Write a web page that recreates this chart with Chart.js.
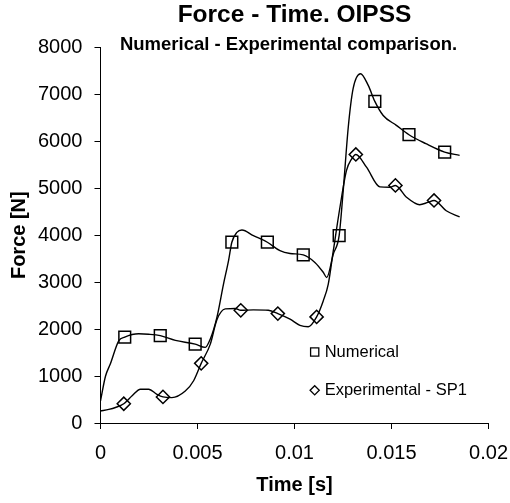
<!DOCTYPE html>
<html>
<head>
<meta charset="utf-8">
<title>Force - Time. OIPSS</title>
<script src="https://cdn.jsdelivr.net/npm/chart.js"></script>
<style>
  html, body { margin: 0; padding: 0; background: #fff; }
  #chart { display: block; }
</style>
</head>
<body>
<canvas id="chart" width="510" height="503"></canvas>
<script>
// values
const numTime = [0, 0.00026, 0.00051, 0.00094, 0.00125, 0.00197, 0.00248, 0.00308, 0.00386, 0.00488,
  0.0054, 0.00566, 0.006, 0.00634, 0.0066, 0.00677, 0.00703, 0.00729, 0.00788, 0.0086,
  0.00925, 0.00977, 0.01045, 0.01105, 0.01148, 0.01166, 0.012, 0.0123, 0.01251, 0.01277,
  0.01302, 0.0134, 0.0138, 0.01414, 0.01457, 0.01525, 0.0159, 0.01677, 0.01774, 0.01851];
const numForce = [470, 1000, 1260, 1750, 1830, 1900, 1890, 1860, 1760, 1680,
  1610, 1790, 2250, 2960, 3460, 3850, 4060, 4110, 3990, 3850,
  3670, 3610, 3580, 3420, 3210, 3100, 3600, 3990, 4950, 6300,
  7120, 7440, 7190, 6850, 6550, 6340, 6140, 5950, 5770, 5700];
const numMarkers = [0.00125, 0.00308, 0.00488, 0.00677, 0.0086, 0.01045, 0.0123, 0.01414, 0.0159, 0.01774];

const expTime = [0, 0.00043, 0.00077, 0.0012, 0.00163, 0.00206, 0.00248, 0.00291, 0.00322, 0.00368,
  0.00437, 0.0048, 0.00519, 0.00566, 0.006, 0.00643, 0.00694, 0.00723, 0.00788, 0.00865,
  0.00914, 0.00977, 0.01028, 0.01071, 0.01114, 0.01148, 0.01174, 0.012, 0.01234, 0.01268,
  0.01294, 0.01316, 0.01371, 0.0144, 0.01491, 0.0152, 0.01577, 0.01645, 0.01688, 0.01719,
  0.01782, 0.01851];
const expForce = [256, 290, 330, 410, 580, 720, 720, 610, 555, 540,
  680, 900, 1270, 1680, 2200, 2430, 2440, 2400, 2410, 2400,
  2330, 2210, 2080, 2050, 2260, 2600, 2960, 3670, 4590, 5380,
  5620, 5720, 5450, 5030, 5020, 5060, 4810, 4650, 4700, 4740,
  4520, 4390];
const expMarkers = [0.0012, 0.00322, 0.00519, 0.00723, 0.00914, 0.01114, 0.01316, 0.0152, 0.01719];

const xTickLabels = ['0', '0.005', '0.01', '0.015', '0.02'];
const yTickLabels = ['0', '1000', '2000', '3000', '4000', '5000', '6000', '7000', '8000'];

const FONT = '"Liberation Sans", Arial, sans-serif';

function toPoints(ts, fs) {
  return ts.map((t, i) => ({ x: t, y: fs[i] }));
}

// subtitle sits on top of the plot, legend inside it (like the excel original)
const overlayPlugin = {
  id: 'overlay',
  afterDraw(chart) {
    const ctx = chart.ctx;
    const a = chart.chartArea;
    ctx.save();
    ctx.fillStyle = '#000';
    ctx.textBaseline = 'middle';
    ctx.textAlign = 'center';
    ctx.font = 'bold 18.5px ' + FONT;
    ctx.fillText('Numerical - Experimental comparison.', (a.left + a.right) / 2 - 6, a.top - 2);

    ctx.textAlign = 'left';
    ctx.font = '16.5px ' + FONT;
    const lx = a.left + (a.right - a.left) * 0.552;
    const rows = [0.811, 0.913];
    chart.data.datasets.forEach((ds, i) => {
      const ly = a.top + (a.bottom - a.top) * rows[i];
      ctx.lineWidth = 1.3;
      ctx.strokeStyle = '#000';
      ctx.fillStyle = '#fff';
      Chart.helpers.drawPoint(ctx, { pointStyle: ds.pointStyle, radius: ds.pointStyle === 'rect' ? 5.8 : 4.6, borderWidth: 1.3 }, lx, ly);
      ctx.fillStyle = '#000';
      ctx.fillText(ds.label, lx + 10, ly);
    });
    ctx.restore();
  }
};

const ctx = document.getElementById('chart').getContext('2d');
new Chart(ctx, {
  type: 'line',
  data: {
    datasets: [
      {
        label: 'Numerical',
        data: toPoints(numTime, numForce),
        borderColor: '#000',
        borderWidth: 1.4,
        backgroundColor: 'rgba(0,0,0,0)',
        pointStyle: 'rect',
        pointBorderColor: '#000',
        pointBorderWidth: 1.5,
        pointRadius: c => numMarkers.includes(c.raw.x) ? 8.3 : 0,
        cubicInterpolationMode: 'monotone',
        fill: false
      },
      {
        label: 'Experimental - SP1',
        data: toPoints(expTime, expForce),
        borderColor: '#000',
        borderWidth: 1.4,
        backgroundColor: 'rgba(0,0,0,0)',
        pointStyle: 'rectRot',
        pointBorderColor: '#000',
        pointBorderWidth: 1.5,
        pointRadius: c => expMarkers.includes(c.raw.x) ? 6.6 : 0,
        cubicInterpolationMode: 'monotone',
        fill: false
      }
    ]
  },
  options: {
    responsive: false,
    animation: false,
    events: [],
    layout: { padding: { left: 3, right: 0, top: 0, bottom: 2 } },
    plugins: {
      legend: { display: false },
      tooltip: { enabled: false },
      title: {
        display: true,
        text: 'Force - Time. OIPSS',
        color: '#000',
        fullSize: false,
        font: { family: FONT, size: 24.5, weight: 'bold', lineHeight: 1.2 },
        padding: { top: 1, bottom: 17 }
      }
    },
    scales: {
      x: {
        type: 'linear',
        min: 0,
        max: 0.02,
        ticks: {
          stepSize: 0.005,
          color: '#000',
          padding: 2,
          maxRotation: 0,
          // tall line height pushes the labels down without widening the right margin
          font: { family: FONT, size: 20, lineHeight: 2.2 },
          callback: (v, i) => xTickLabels[i]
        },
        grid: { drawOnChartArea: false, tickLength: 6, color: '#000', lineWidth: 1 },
        border: { color: '#000', width: 1 },
        title: {
          display: true,
          text: 'Time [s]',
          color: '#000',
          font: { family: FONT, size: 20, weight: 'bold' },
          padding: { top: -4, bottom: 4 }
        }
      },
      y: {
        min: 0,
        max: 8000,
        ticks: {
          stepSize: 1000,
          color: '#000',
          padding: 12,
          font: { family: FONT, size: 20 },
          callback: (v, i) => yTickLabels[i]
        },
        grid: { drawOnChartArea: false, tickLength: 6, color: '#000', lineWidth: 1 },
        border: { color: '#000', width: 1 },
        title: {
          display: true,
          text: 'Force [N]',
          color: '#000',
          font: { family: FONT, size: 20, weight: 'bold' },
          padding: { top: 4, bottom: -5 }
        }
      }
    }
  },
  plugins: [overlayPlugin]
});
</script>
</body>
</html>
